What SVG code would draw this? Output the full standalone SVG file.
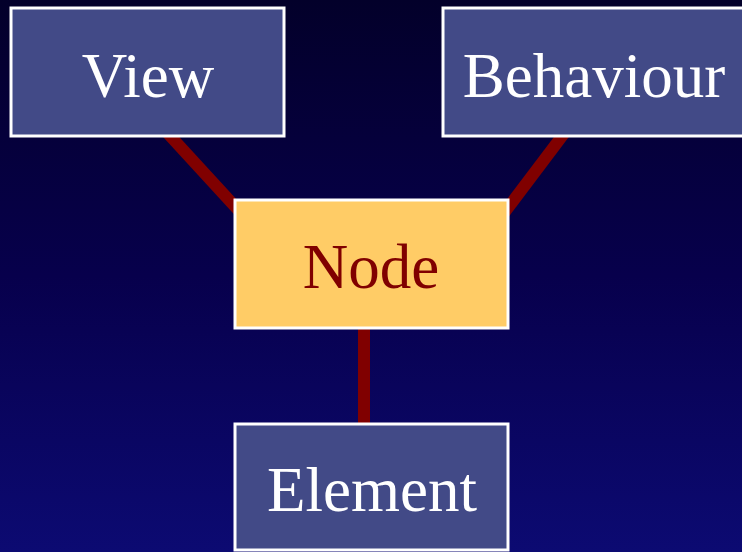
<svg xmlns="http://www.w3.org/2000/svg" width="742" height="552" viewBox="0 0 742 552">
  <defs>
    <linearGradient id="bg" x1="0" y1="0" x2="0" y2="1">
      <stop offset="0" stop-color="#03002a"/>
      <stop offset="0.5" stop-color="#07004c"/>
      <stop offset="1" stop-color="#0c0a72"/>
    </linearGradient>
    <style>
      .box { fill: #424a87; stroke: #ffffff; stroke-width: 3; }
      .hub { fill: #ffcc66; stroke: #ffffff; stroke-width: 3; }
      .lbl { font-family: "Liberation Serif", "Times New Roman", serif; font-size: 63px; text-anchor: middle; fill: #ffffff; }
      .hubl { fill: #800000; }
      .link { stroke: #800000; stroke-width: 12; fill: none; }
    </style>
  </defs>
  <rect x="0" y="0" width="742" height="552" fill="url(#bg)"/>

  <g id="connectors">
    <line class="link" x1="151" y1="115" x2="252" y2="225"/>
    <line class="link" x1="578" y1="115" x2="495" y2="225"/>
    <line class="link" x1="364" y1="320" x2="364" y2="430"/>
  </g>

  <g id="view">
    <rect class="box" x="11" y="8" width="273" height="128"/>
    <text class="lbl" x="148" y="97">View</text>
  </g>

  <g id="behaviour">
    <rect class="box" x="443" y="8" width="306" height="128"/>
    <text class="lbl" x="594" y="97">Behaviour</text>
  </g>

  <g id="node">
    <rect class="hub" x="235" y="200" width="273" height="128"/>
    <text class="lbl hubl" x="371" y="288">Node</text>
  </g>

  <g id="element">
    <rect class="box" x="235" y="424" width="273" height="126"/>
    <text class="lbl" x="372" y="511">Element</text>
  </g>
</svg>
